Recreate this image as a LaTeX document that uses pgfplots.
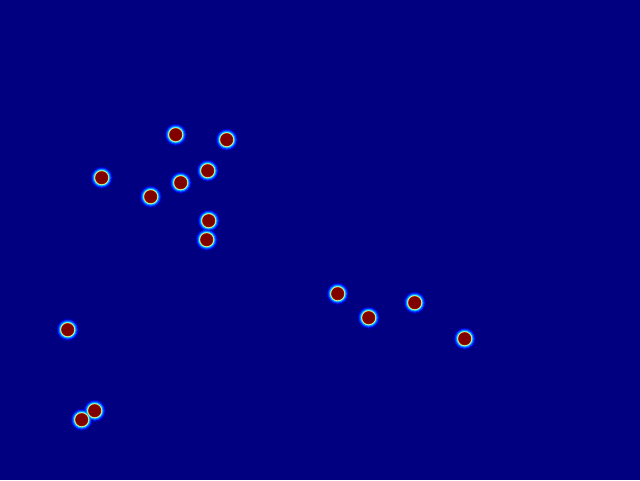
\documentclass[border=0pt]{standalone}
\usepackage{pgfplots}
\usepackage{pgfplotstable}
\pgfplotsset{compat=1.18}
\definecolor{bg}{RGB}{0,0,128}
\definecolor{g1}{RGB}{0,0,200}
\definecolor{g2}{RGB}{0,50,255}
\definecolor{g3}{RGB}{0,150,255}
\definecolor{g4}{RGB}{90,245,255}
\definecolor{g5}{RGB}{220,255,150}
\definecolor{g6}{RGB}{255,140,0}
\definecolor{core}{RGB}{128,0,0}
\pgfplotstableread{
x y
175 134
226 139
101 177
150 196
180 182
207 170
208 220
206 239
337 293
368 317
414 302
464 338
67 329
94 410
81 419
}\pts
\begin{document}
\begin{tikzpicture}
\begin{axis}[
  width=16cm, height=12cm, scale only axis,
  xmin=-0.7, xmax=639.3, ymin=-0.7, ymax=479.3, y dir=reverse,
  hide axis, clip=true,
]
\fill[bg] (rel axis cs:0,0) rectangle (rel axis cs:1,1);
\addplot[only marks, mark=*, color=g1, mark size=7.6pt, mark options={draw=none, fill=g1}] table {\pts};
\addplot[only marks, mark=*, color=g2, mark size=6.8pt, mark options={draw=none, fill=g2}] table {\pts};
\addplot[only marks, mark=*, color=g3, mark size=6.0pt, mark options={draw=none, fill=g3}] table {\pts};
\addplot[only marks, mark=*, color=g4, mark size=5.3pt, mark options={draw=none, fill=g4}] table {\pts};
\addplot[only marks, mark=*, color=g5, mark size=4.85pt, mark options={draw=none, fill=g5}] table {\pts};
\addplot[only marks, mark=*, color=g6, mark size=4.55pt, mark options={draw=none, fill=g6}] table {\pts};
\addplot[only marks, mark=*, color=core, mark size=4.3pt, mark options={draw=none, fill=core}] table {\pts};
\end{axis}
\end{tikzpicture}
\end{document}
